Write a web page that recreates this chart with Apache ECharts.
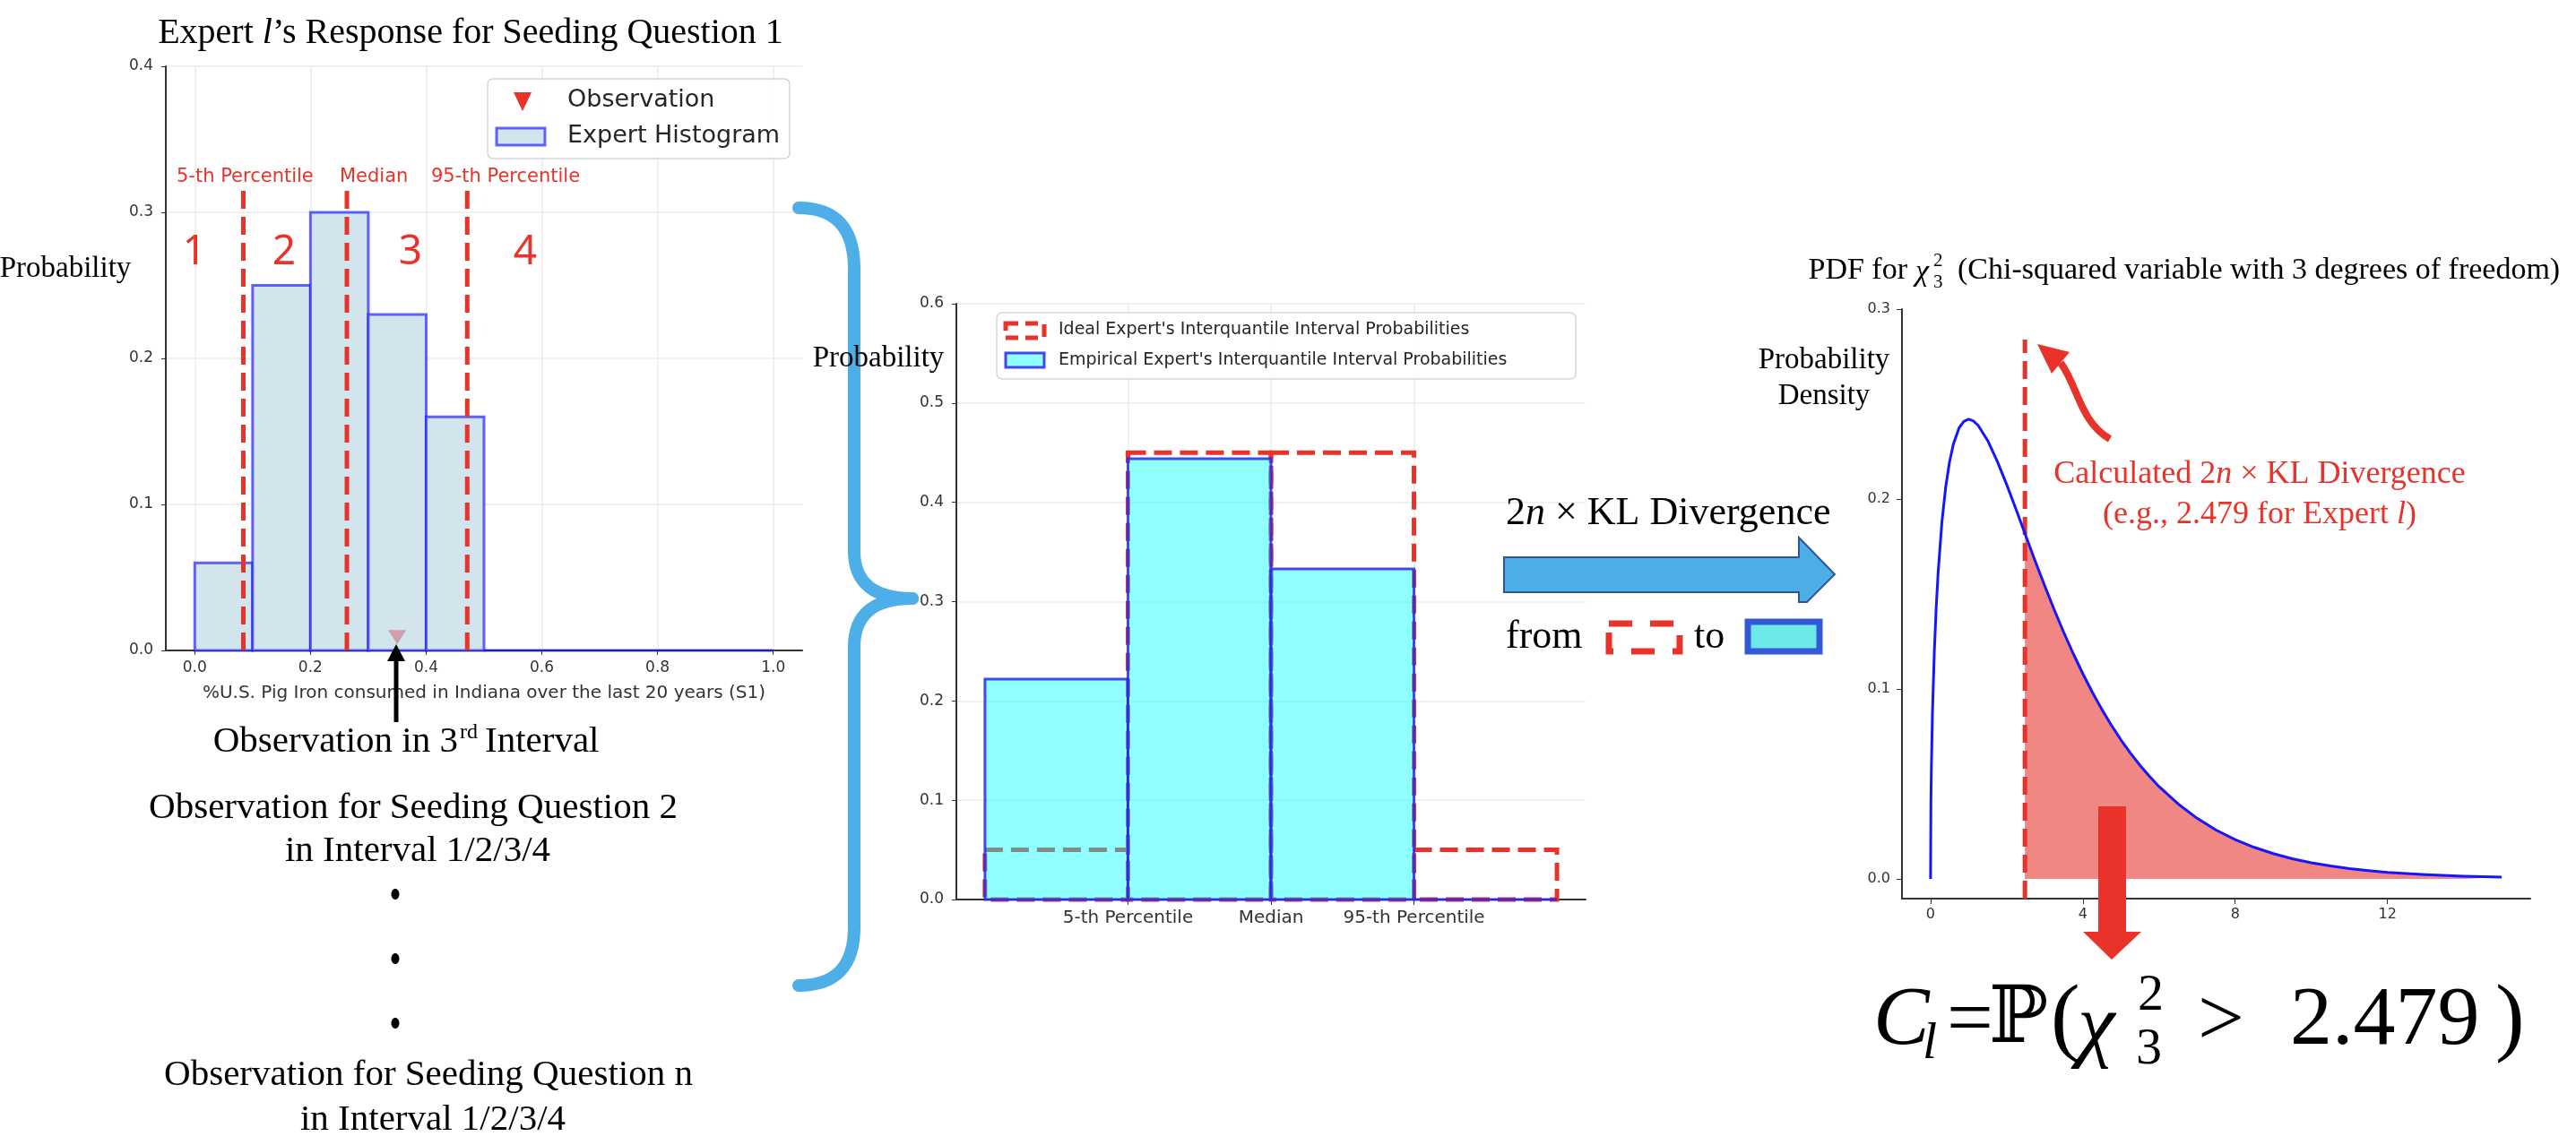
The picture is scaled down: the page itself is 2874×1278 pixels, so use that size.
<!DOCTYPE html>
<html><head><meta charset="utf-8">
<script src="https://cdn.jsdelivr.net/npm/echarts@6/dist/echarts.min.js"></script>
<style>html,body{margin:0;padding:0;background:#fff}#c{width:2874px;height:1278px}</style>
</head><body><div id="c"></div><script>
// ---------- data: left panel (expert histogram) ----------
const histBinEdges = [0.0,0.1,0.2,0.3,0.4,0.5,0.6,0.7,0.8,0.9,1.0];
const histProb = [0.06,0.25,0.30,0.23,0.16,0,0,0,0,0];
const percentileLabels = ['5-th Percentile','Median','95-th Percentile'];
const percentileValues = [0.084,0.263,0.471];
const percentileLineTop = 0.315;
const observationValue = 0.35;
const histXTicks = [0,0.2,0.4,0.6,0.8,1.0];
const histXLabel = '%U.S. Pig Iron consumed in Indiana over the last 20 years (S1)';

// ---------- data: middle panel (interquantile probabilities) ----------
const intervalNames = ['5-th Percentile','Median','95-th Percentile'];
const intervalTickPos = [0.5,1.5,2.5];
const idealProb = [0.05,0.45,0.45,0.05];
const empiricalProb = [0.222,0.444,0.333,0.0];

// ---------- data: right panel (chi-squared, 3 dof) ----------
const chiX = [0,0.01,0.02,0.05,0.1,0.15,0.2,0.3,0.4,0.5,0.6,0.75,0.875,1.0,1.125,1.25,1.5,1.75,2.0,2.25,2.479,2.75,3.0,3.25,3.5,3.75,4.0,4.25,4.5,4.75,5.0,5.25,5.5,5.75,6.0,6.5,7.0,7.5,8.0,8.5,9.0,9.5,10.0,10.5,11.0,11.5,12.0,13.0,14.0,15.0];
const chiY = [0,0.0397,0.0559,0.0870,0.1200,0.1433,0.1614,0.1881,0.2066,0.2197,0.2289,0.2375,0.2409,0.2420,0.2411,0.2388,0.2308,0.2200,0.2076,0.1943,0.1818,0.1672,0.1542,0.1416,0.1297,0.1185,0.1080,0.0982,0.0892,0.0809,0.0732,0.0662,0.0598,0.0540,0.0486,0.0395,0.0319,0.0257,0.0207,0.0166,0.0133,0.0106,0.0085,0.0068,0.0054,0.0043,0.0034,0.0022,0.0014,0.0009];
const klValue = 2.479;
const klLineTop = 0.284;
const chiXTicks = [0,4,8,12];
const chiYTicks = [0,0.1,0.2,0.3];

// ---------- styles ----------
const AX = '#333333';
const SANS = 'DejaVu Sans';
const SERIF = 'Liberation Serif';
const RED = '#e8322a';
const GRIDC = '#ebebeb';

const chart = echarts.init(document.getElementById('c'), null, {renderer:'canvas'});

const histData = histProb.map((p,i)=>[histBinEdges[i], histBinEdges[i+1], p]);
const pctData = percentileValues.map(v=>[v, 0, percentileLineTop]);
const idealData = idealProb.map((p,i)=>[i-0.5, i+0.5, p]);
const empData = empiricalProb.map((p,i)=>[i-0.5, i+0.5, p]);
const chiLine = chiX.map((x,i)=>[x, chiY[i]]);
const chiTail = chiLine.filter(d=>d[0] >= klValue);

function rectItem(style){
  return function(params, api){
    const p0 = api.coord([api.value(0), 0]);
    const p1 = api.coord([api.value(1), api.value(2)]);
    return {type:'rect', shape:{x:p0[0], y:p1[1], width:p1[0]-p0[0], height:p0[1]-p1[1]}, style:Object.assign({}, style)};
  };
}
function vlineItem(style){
  return function(params, api){
    const a = api.coord([api.value(0), api.value(1)]);
    const b = api.coord([api.value(0), api.value(2)]);
    return {type:'line', shape:{x1:a[0], y1:a[1], x2:b[0], y2:b[1]}, style:Object.assign({}, style)};
  };
}

const lbl = (extra)=>Object.assign({fontSize:17, fontFamily:SANS, color:AX}, extra||{});

const option = {
  animation:false,
  backgroundColor:'#ffffff',
  grid:[
    {left:185, top:74, width:710, height:652, outerBoundsMode:'none'},
    {left:1067, top:339, width:702, height:665, outerBoundsMode:'none'},
    {left:2122, top:345, width:701, height:658, outerBoundsMode:'none'}
  ],
  xAxis:[
    {gridIndex:0, type:'value', min:-0.05, max:1.05,
     axisLine:{show:true, onZero:false, lineStyle:{color:AX, width:2}},
     axisTick:{show:true, customValues:histXTicks, length:5, lineStyle:{color:AX}},
     axisLabel:lbl({customValues:histXTicks, formatter:v=>Number(v).toFixed(1), margin:11}),
     splitLine:{show:true, lineStyle:{color:GRIDC, width:1.5}},
     name:histXLabel, nameLocation:'middle', nameGap:38,
     nameTextStyle:{fontSize:20, fontFamily:SANS, color:AX}},
    {gridIndex:1, type:'value', min:-0.7, max:3.7,
     axisLine:{show:true, onZero:false, lineStyle:{color:AX, width:2}},
     axisTick:{show:true, customValues:intervalTickPos, length:6, lineStyle:{color:AX}},
     axisLabel:lbl({customValues:intervalTickPos, fontSize:20, margin:11,
       formatter:v=>intervalNames[Math.round(v-0.5)]}),
     splitLine:{show:true, lineStyle:{color:GRIDC, width:1.5}}},
    {gridIndex:2, type:'value', min:-0.75, max:15.75,
     axisLine:{show:true, onZero:false, lineStyle:{color:AX, width:2}},
     axisTick:{show:true, customValues:chiXTicks, length:6, lineStyle:{color:AX}},
     axisLabel:lbl({customValues:chiXTicks, fontSize:16, margin:10, formatter:v=>String(Math.round(v))}),
     splitLine:{show:false}}
  ],
  yAxis:[
    {gridIndex:0, type:'value', min:0, max:0.4, interval:0.1,
     axisLine:{show:true, onZero:false, lineStyle:{color:AX, width:2}},
     axisTick:{show:true, length:5, lineStyle:{color:AX}},
     axisLabel:lbl({formatter:v=>Number(v).toFixed(1), margin:14}),
     splitLine:{show:true, lineStyle:{color:GRIDC, width:1.5}}},
    {gridIndex:1, type:'value', min:0, max:0.6, interval:0.1,
     axisLine:{show:true, onZero:false, lineStyle:{color:AX, width:2}},
     axisTick:{show:true, length:5, lineStyle:{color:AX}},
     axisLabel:lbl({formatter:v=>Number(v).toFixed(1), margin:14}),
     splitLine:{show:true, lineStyle:{color:GRIDC, width:1.5}}},
    {gridIndex:2, type:'value', min:-0.0104, max:0.3,
     axisLine:{show:true, onZero:false, lineStyle:{color:AX, width:2}},
     axisTick:{show:true, customValues:chiYTicks, length:6, lineStyle:{color:AX}},
     axisLabel:lbl({customValues:chiYTicks, fontSize:16, formatter:v=>Number(v).toFixed(1), margin:13}),
     splitLine:{show:false}}
  ],
  series:[
    {type:'custom', name:'Expert Histogram', xAxisIndex:0, yAxisIndex:0, z:2, data:histData,
     encode:{x:[0,1], y:2},
     renderItem:rectItem({fill:'#d2e5ed', stroke:'rgba(20,20,255,0.65)', lineWidth:3})},
    {type:'custom', name:'percentiles', xAxisIndex:0, yAxisIndex:0, z:3, data:pctData,
     encode:{x:0, y:[1,2]},
     renderItem:vlineItem({stroke:RED, lineWidth:5, lineDash:[20,9]})},
    {type:'scatter', name:'Observation', xAxisIndex:0, yAxisIndex:0, z:4,
     data:[[observationValue, 0.009]], symbol:'triangle', symbolRotate:180, symbolSize:[20,16],
     itemStyle:{color:'rgba(205,70,80,0.55)'}},
    {type:'custom', name:'Ideal', xAxisIndex:1, yAxisIndex:1, z:2, data:idealData,
     encode:{x:[0,1], y:2},
     renderItem:rectItem({fill:'none', stroke:RED, lineWidth:5, lineDash:[20,9]})},
    {type:'custom', name:'Empirical', xAxisIndex:1, yAxisIndex:1, z:3, data:empData,
     encode:{x:[0,1], y:2},
     renderItem:rectItem({fill:'rgba(0,255,255,0.44)', stroke:'rgba(40,40,235,0.85)', lineWidth:3})},
    {type:'line', name:'tail', xAxisIndex:2, yAxisIndex:2, z:2, data:chiTail, smooth:false,
     showSymbol:false, symbol:'none', lineStyle:{width:0, color:'lightcoral'},
     areaStyle:{color:'#f08782', opacity:1, origin:'auto'}},
    {type:'custom', name:'kl', xAxisIndex:2, yAxisIndex:2, z:3, data:[[klValue, -0.0104, klLineTop]],
     encode:{x:0, y:[1,2]},
     renderItem:vlineItem({stroke:RED, lineWidth:5, lineDash:[20,9]})},
    {type:'line', name:'pdf', xAxisIndex:2, yAxisIndex:2, z:4, data:chiLine, smooth:false,
     showSymbol:false, symbol:'none', lineStyle:{width:3, color:'#1515ff', join:'round'}}
  ],
  graphic:[]
};

// ---------- annotations (graphic) ----------
const G = option.graphic;
function T(x, y, text, o){
  o = o || {};
  G.push({type:'text', x:x, y:y, z:100, silent:true, scaleY:o.sy||1, style:{
    text:text, fill:o.color||'#000', fontSize:o.size||41, fontFamily:o.family||SERIF,
    fontStyle:o.style||'normal', fontWeight:o.weight||'normal',
    align:o.align||'center', textAlign:o.align||'center',
    verticalAlign:'middle', textVerticalAlign:'middle', rich:o.rich}});
}
// left panel texts
T(525, 37, '{a|Expert }{i|l}{a|’s Response for Seeding Question 1}', {rich:{a:{fontSize:40, fontFamily:SERIF}, i:{fontSize:40, fontFamily:SERIF, fontStyle:'italic'}}});
T(73, 300, 'Probability', {size:33});
T(217, 282, '1', {size:46, family:'Noto Sans', color:RED});
T(317, 282, '2', {size:46, family:'Noto Sans', color:RED});
T(458, 282, '3', {size:46, family:'Noto Sans', color:RED});
T(586, 282, '4', {size:46, family:'Noto Sans', color:RED});
const pctLabelLeft = [197, 379, 481];
percentileLabels.forEach((s,i)=>T(pctLabelLeft[i], 198, s, {size:21, family:SANS, color:RED, align:'left'}));
// left legend
G.push({type:'rect', z:90, shape:{x:544, y:88, width:337, height:89, r:6}, style:{fill:'rgba(255,255,255,0.85)', stroke:'#d6d6d6', lineWidth:1.5}});
G.push({type:'polygon', z:95, shape:{points:[[573,103],[593,103],[583,124]]}, style:{fill:RED}});
G.push({type:'rect', z:95, shape:{x:554, y:143, width:54, height:19}, style:{fill:'#d2e5ed', stroke:'rgba(20,20,255,0.65)', lineWidth:3}});
T(633, 112, 'Observation', {size:27, family:SANS, color:'#262626', align:'left'});
T(633, 152, 'Expert Histogram', {size:27, family:SANS, color:'#262626', align:'left'});
// black arrow to observation
G.push({type:'line', z:95, shape:{x1:442, y1:806, x2:442, y2:734}, style:{stroke:'#000', lineWidth:5}});
G.push({type:'polygon', z:95, shape:{points:[[432,738],[452,738],[442,719]]}, style:{fill:'#000'}});
// bottom-left texts
T(511, 828, 'Observation in 3', {align:'right'});
T(513, 818, 'rd', {size:24, align:'left'});
T(541, 828, 'Interval', {align:'left'});
T(461, 902, 'Observation for Seeding Question 2');
T(466, 950, 'in Interval 1/2/3/4');
T(478, 1200, 'Observation for Seeding Question n');
T(483, 1250, 'in Interval 1/2/3/4');
[998, 1070, 1142].forEach(y=>G.push({type:'ellipse', z:95, shape:{cx:441, cy:y, rx:4.5, ry:6}, style:{fill:'#000'}}));
// brace
const BR = {stroke:'#4daee8', lineWidth:14, fill:'none', lineCap:'round'};
G.push({type:'bezierCurve', z:80, shape:{x1:891, y1:232, cpx1:953, cpy1:232, x2:953, y2:300}, style:BR});
G.push({type:'line', z:80, shape:{x1:953, y1:300, x2:953, y2:615}, style:BR});
G.push({type:'bezierCurve', z:80, shape:{x1:953, y1:615, cpx1:953, cpy1:668, x2:1018, y2:668}, style:BR});
G.push({type:'bezierCurve', z:80, shape:{x1:1018, y1:668, cpx1:953, cpy1:668, x2:953, y2:722}, style:BR});
G.push({type:'line', z:80, shape:{x1:953, y1:722, x2:953, y2:1035}, style:BR});
G.push({type:'bezierCurve', z:80, shape:{x1:953, y1:1035, cpx1:953, cpy1:1100, x2:891, y2:1100}, style:BR});
// middle panel texts & legend
T(980, 400, 'Probability', {size:33});
G.push({type:'rect', z:90, shape:{x:1112, y:349, width:646, height:74, r:6}, style:{fill:'rgba(255,255,255,0.85)', stroke:'#d6d6d6', lineWidth:1.5}});
G.push({type:'rect', z:95, shape:{x:1122, y:361, width:43, height:16}, style:{fill:'none', stroke:RED, lineWidth:5, lineDash:[14,8]}});
G.push({type:'rect', z:95, shape:{x:1122, y:394, width:43, height:16}, style:{fill:'rgba(0,255,255,0.44)', stroke:'rgba(40,40,235,0.85)', lineWidth:3}});
T(1181, 368, "Ideal Expert's Interquantile Interval Probabilities", {size:19, family:SANS, color:'#262626', align:'left'});
T(1181, 402, "Empirical Expert's Interquantile Interval Probabilities", {size:19, family:SANS, color:'#262626', align:'left'});
// KL arrow block
T(1680, 573, '{a|2}{i|n}{a| × KL Divergence}', {align:'left', rich:{a:{fontSize:44, fontFamily:SERIF}, i:{fontSize:44, fontFamily:SERIF, fontStyle:'italic'}}});
G.push({type:'polygon', z:95, shape:{points:[[1678,622],[2007,622],[2007,600],[2047,641],[2016,672],[2007,672],[2007,661],[1678,661]]}, style:{fill:'#4daee6', stroke:'#2f5597', lineWidth:2}});
T(1680, 711, 'from', {size:44, align:'left'});
G.push({type:'rect', z:95, shape:{x:1795, y:696, width:79, height:31}, style:{fill:'none', stroke:RED, lineWidth:7, lineDash:[26,20]}});
T(1890, 711, 'to', {size:44, align:'left'});
G.push({type:'rect', z:95, shape:{x:1950, y:694, width:80, height:33}, style:{fill:'#6de8e8', stroke:'#3358d8', lineWidth:7}});
// right panel texts
T(2128, 302, 'PDF for', {size:34, align:'right'});
T(2137, 304, 'χ', {size:34, style:'italic', align:'left'});
T(2157, 291, '2', {size:21, align:'left'});
T(2157, 315, '3', {size:21, align:'left'});
T(2184, 302, '(Chi-squared variable with 3 degrees of freedom)', {size:34, align:'left'});
T(2035, 402, 'Probability', {size:33});
T(2035, 442, 'Density', {size:33});
T(2521, 530, '{a|Calculated 2}{i|n}{a| × KL Divergence}', {color:RED, rich:{a:{fontSize:36, fontFamily:SERIF, color:RED}, i:{fontSize:36, fontFamily:SERIF, fontStyle:'italic', color:RED}}});
T(2521, 575, '{a|(e.g., 2.479 for Expert }{i|l}{a|)}', {color:RED, rich:{a:{fontSize:36, fontFamily:SERIF, color:RED}, i:{fontSize:36, fontFamily:SERIF, fontStyle:'italic', color:RED}}});
// curved red arrow
G.push({type:'bezierCurve', z:95, shape:{x1:2354, y1:490, cpx1:2320, cpy1:470, cpx2:2318, cpy2:430, x2:2299, y2:405}, style:{stroke:RED, lineWidth:8, fill:'none'}});
G.push({type:'polygon', z:95, shape:{points:[[2273,384],[2309,393],[2289,417]]}, style:{fill:RED}});
// red down arrow
G.push({type:'polygon', z:95, shape:{points:[[2341,900],[2372,900],[2372,1040],[2389,1040],[2356,1071],[2324,1040],[2341,1040]]}, style:{fill:RED}});
// formula
const FF = 'Liberation Serif, DejaVu Serif';
T(2090, 1140, 'C', {size:94, style:'italic', family:FF, align:'left'});
T(2145, 1166, 'l', {size:58, style:'italic', family:FF, align:'left'});
T(2172, 1142, '=', {size:92, family:FF, align:'left'});
T(2219, 1140, 'ℙ', {size:88, family:'DejaVu Serif, DejaVu Sans', align:'left'});
T(2288, 1140, '(', {size:98, family:FF, align:'left'});
T(2318, 1148, 'χ', {size:94, style:'italic', family:FF, align:'left'});
T(2385, 1112, '2', {size:58, family:FF, align:'left'});
T(2383, 1172, '3', {size:58, family:FF, align:'left'});
T(2452, 1142, '>', {size:92, family:FF, align:'left'});
T(2555, 1140, '2.479', {size:94, family:FF, align:'left'});
T(2784, 1140, ')', {size:98, family:FF, align:'left'});

chart.setOption(option);
</script></body></html>
